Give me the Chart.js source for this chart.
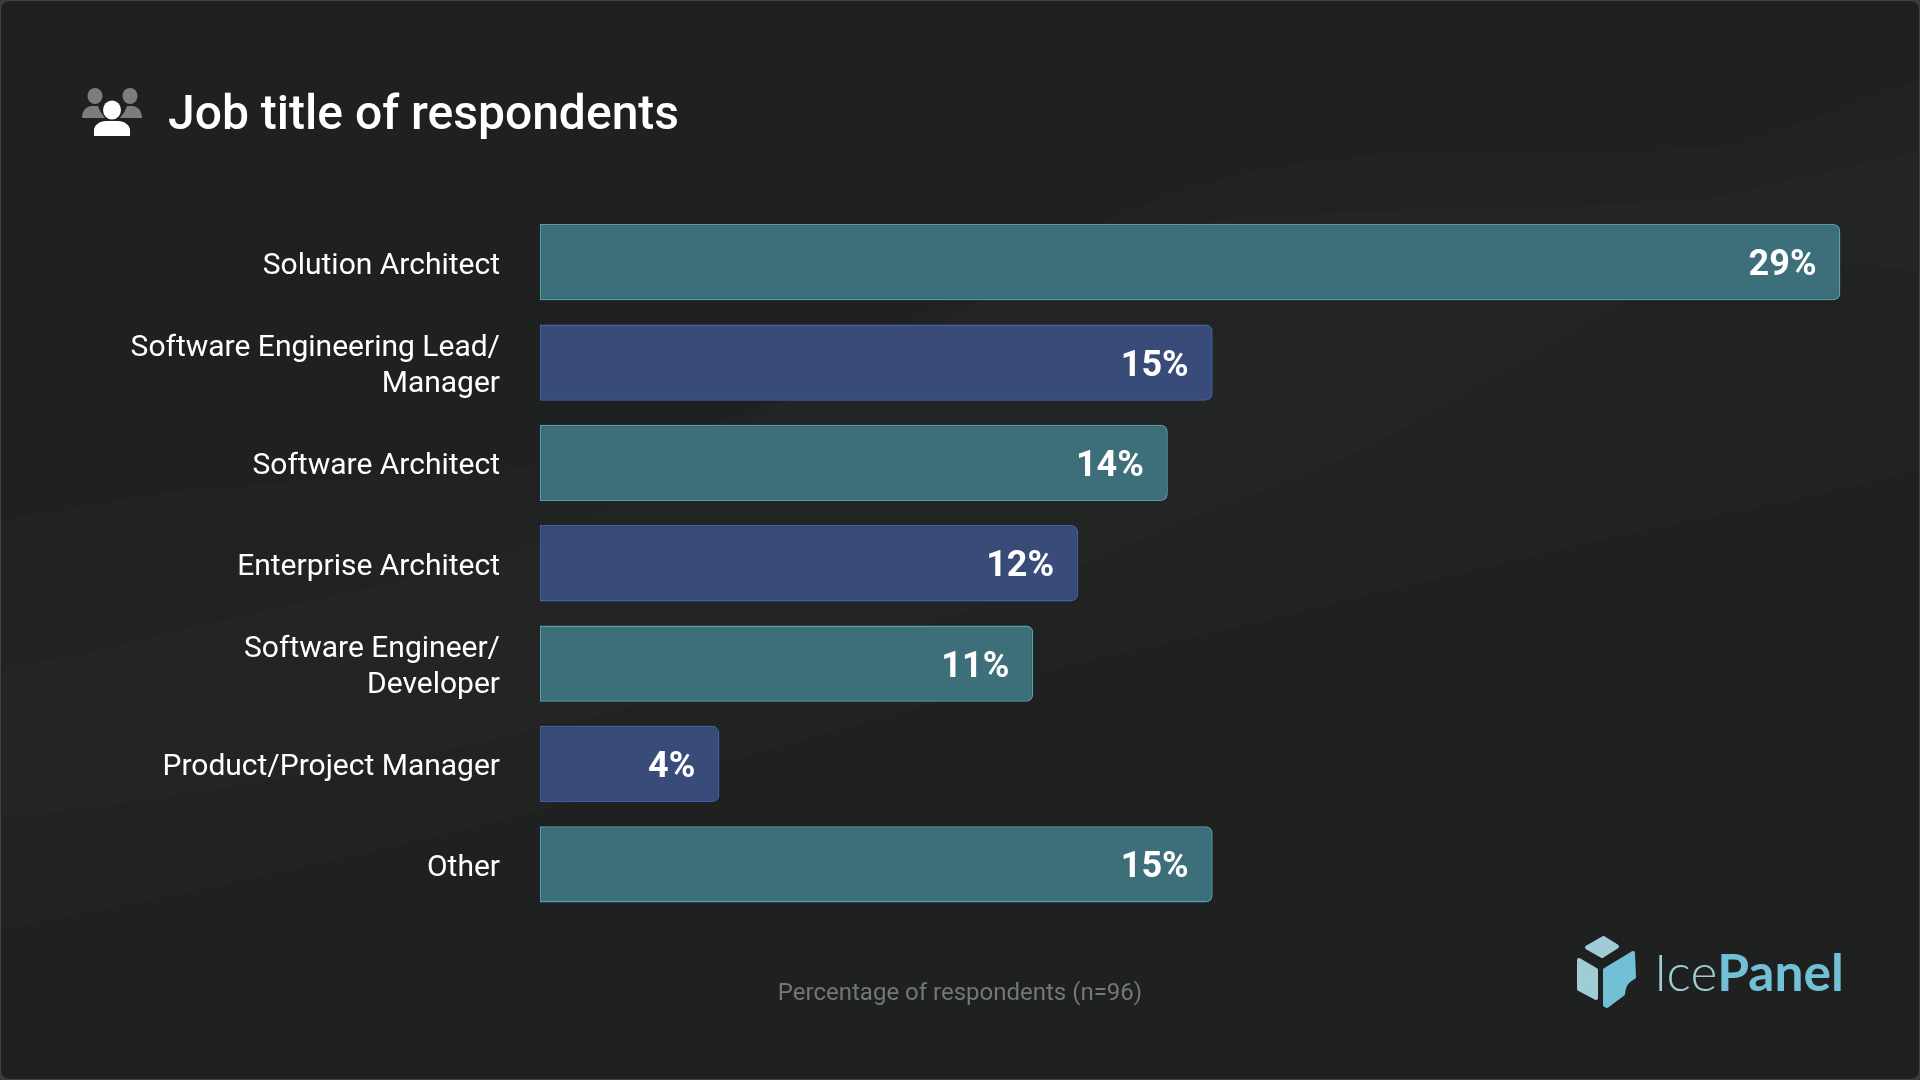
<!DOCTYPE html>
<html>
<head>
<meta charset="utf-8">
<title>Job title of respondents</title>
<script src="https://cdn.jsdelivr.net/npm/chart.js@4"></script>
<style>
html,body{margin:0;padding:0;background:#3a3c3c;width:1920px;height:1080px;overflow:hidden}
#frame{position:absolute;left:0;top:0;width:1918px;height:1078px;border:1px solid #3f4242;border-radius:9px;background:#1f2121;overflow:hidden}
#bg,#icon,#logo{position:absolute;left:-1px;top:-1px}
#wrap{position:absolute;left:-1px;top:-1px;width:1920px;height:1080px}
.t{position:absolute;white-space:nowrap}
#title{left:167px;top:84px;font:500 48px/56px Roboto,sans-serif;color:#fff}
#foot{left:-1px;width:1920px;text-align:center;top:975px;font:400 24px/32px Roboto,sans-serif;color:#747777}
#brand{left:1653px;top:938px;font:300 51.500px/64px Lato,sans-serif;color:#a0ccd6}
#brand b{font-weight:700;color:#72c0d5}
</style>
</head>
<body>
<div id="frame">
<svg id="bg" width="1920" height="1080" viewBox="0 0 1920 1080">
  <path d="M0 519 C60 512 120 498 178 491 C286 480 400 478 500 470 C700 450 850 370 1000 290 C1100 240 1170 224 1235 218 C1340 210 1440 210 1528 207 C1640 203 1700 200 1733 193 C1790 180 1850 165 1920 152 L1920 470 C1880 480 1840 490 1797 500 C1720 515 1660 527 1601 540 C1500 565 1410 585 1320 607 C1220 633 1130 650 1040 673 C800 740 500 835 0 930Z" fill="#e8ffff" fill-opacity="0.011"/>
  <path d="M0 666 C30 662 50 660 71 656 C120 645 170 632 214 622 C330 595 440 575 536 542 C640 500 720 440 800 390 C900 320 1000 270 1100 223 C1150 200 1190 188 1235 175 C1280 165 1320 160 1352 157 C1400 152 1450 150 1499 150 C1600 150 1660 150 1704 148 C1740 146 1770 135 1792 125 C1840 108 1880 95 1920 80 L1920 272 C1890 268 1870 266 1842 265 C1780 262 1720 262 1623 303 C1560 340 1510 370 1466 393 C1430 415 1395 433 1361 450 C1310 475 1260 493 1205 513 C1130 545 1060 575 1000 600 C850 650 600 720 400 760 C250 785 120 805 0 820Z" fill="#f0ffff" fill-opacity="0.011"/>
</svg>
<div id="wrap"><canvas id="chart" width="1920" height="1080"></canvas></div>
<svg id="icon" width="200" height="160" viewBox="0 0 200 160">
  <g fill="#7d7d7d">
    <ellipse cx="95" cy="96" rx="7.500" ry="8"/>
    <ellipse cx="130" cy="96" rx="7.500" ry="8"/>
    <path d="M82 118 C82 110 87 106 92 106 L98 106 C100 112 103 115 105 118Z"/>
    <path d="M142 118 C142 110 137 106 132 106 L127 106 C125 112 122 115 120 118Z"/>
  </g>
  <g fill="#ffffff">
    <ellipse cx="112" cy="110" rx="9" ry="9.500"/>
    <path d="M94 136 L94 130 C94 125 100 121 106 121 L118 121 C124 121 130 125 130 130 L130 136Z"/>
  </g>
</svg>
<svg id="logo" width="1920" height="1080" viewBox="0 0 1920 1080">
  <g stroke-linejoin="round" stroke-width="4">
    <path d="M1603.500 938 L1617 946.500 L1602 956 L1587 947.500Z" fill="#a0ccd6" stroke="#a0ccd6"/>
    <path d="M1579 960 L1596 970 L1596 998 L1579 989Z" fill="#a0ccd6" stroke="#a0ccd6"/>
    <path d="M1605 970 L1633 953 L1634 977 C1627 981 1624 984 1623 994 L1607 1006 L1605 1005Z" fill="#72c0d5" stroke="#72c0d5"/>
  </g>
</svg>
<div class="t" id="title">Job title of respondents</div>
<div class="t" id="foot">Percentage of respondents (n=96)</div>
<div class="t" id="brand">Ice<b>Panel</b></div>
</div>
<script>
const categories = [
  "Solution Architect",
  ["Software Engineering Lead/", "Manager"],
  "Software Architect",
  "Enterprise Architect",
  ["Software Engineer/", "Developer"],
  "Product/Project Manager",
  "Other"
];
const shares = [29, 15, 14, 12, 11, 4, 15];
const fills = ["#3d6f7a", "#394c79", "#3d6f7a", "#394c79", "#3d6f7a", "#394c79", "#3d6f7a"];
const edges = ["#55a0ae", "#4263a8", "#55a0ae", "#4263a8", "#55a0ae", "#4263a8", "#55a0ae"];

const valueLabels = {
  id: "valueLabels",
  afterDatasetsDraw(chart) {
    const ctx = chart.ctx;
    const bars = chart.getDatasetMeta(0).data;
    ctx.save();
    ctx.font = "700 36px Roboto, sans-serif";
    ctx.fillStyle = "#ffffff";
    ctx.textAlign = "right";
    ctx.textBaseline = "middle";
    bars.forEach((bar, i) => ctx.fillText(shares[i] + "%", bar.x - 24, bar.y + 4));
    ctx.restore();
  }
};

new Chart(document.getElementById("chart"), {
  type: "bar",
  data: {
    labels: categories,
    datasets: [{
      data: shares,
      backgroundColor: fills,
      borderColor: edges,
      borderWidth: 1.5,
      borderSkipped: false,
      borderRadius: { topLeft: 0, bottomLeft: 0, topRight: 7, bottomRight: 7 },
      barPercentage: 0.76,
      categoryPercentage: 1
    }]
  },
  options: {
    indexAxis: "y",
    responsive: false,
    animation: false,
    layout: { padding: { left: 0, right: 79.500, top: 212, bottom: 165.500 } },
    plugins: { legend: { display: false }, title: { display: false }, tooltip: { enabled: false } },
    scales: {
      x: { display: false, min: 0, max: 29 },
      y: {
        afterFit(s) { s.width = 540; },
        grid: { display: false, drawTicks: false },
        border: { display: false },
        ticks: {
          padding: 40,
          labelOffset: 4,
          color: "#ffffff",
          autoSkip: false,
          font: { family: "Roboto, sans-serif", size: 30, lineHeight: 1.2 }
        }
      }
    }
  },
  plugins: [valueLabels]
});
</script>
</body>
</html>
